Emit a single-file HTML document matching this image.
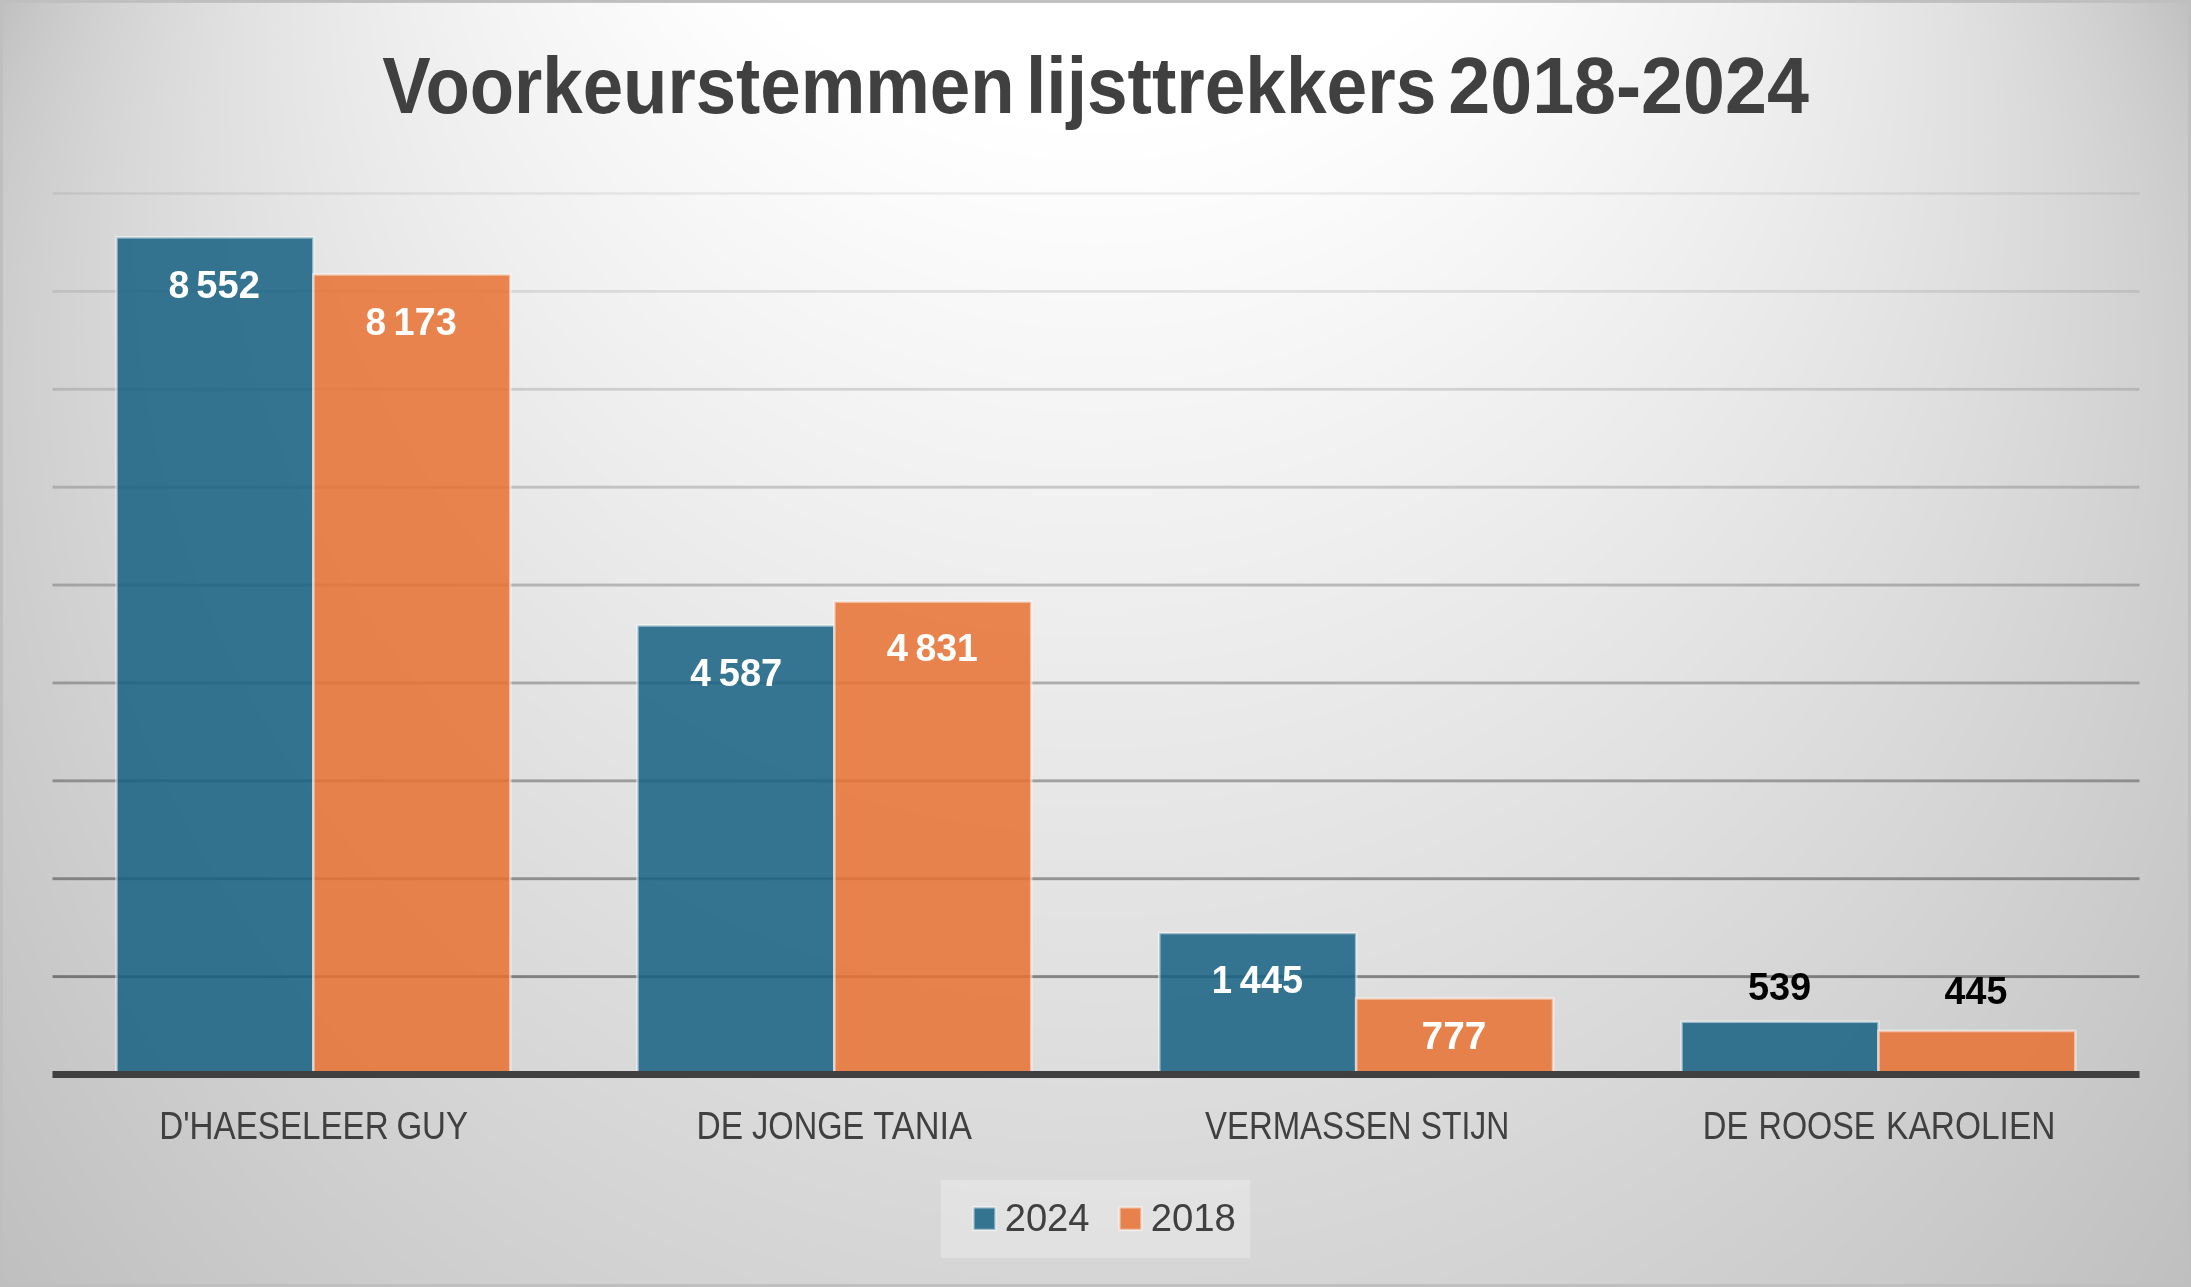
<!DOCTYPE html><html><head><meta charset="utf-8"><title>Voorkeurstemmen lijsttrekkers 2018-2024</title>
<style>html,body{margin:0;padding:0;background:#bfbfbf;overflow:hidden;}svg{display:block;font-family:"Liberation Sans",sans-serif;}</style></head><body>
<svg width="2191" height="1287" viewBox="0 0 2191 1287">
<rect x="0" y="0" width="2191" height="1287" fill="#bfbfbf"/>
<g>
<circle cx="1095.5" cy="635.53" r="1264.46" fill="rgb(192,192,192)"/>
<circle cx="1095.5" cy="619.58" r="1252.35" fill="rgb(193,193,193)"/>
<circle cx="1095.5" cy="603.63" r="1240.24" fill="rgb(194,194,194)"/>
<circle cx="1095.5" cy="587.69" r="1228.13" fill="rgb(195,195,195)"/>
<circle cx="1095.5" cy="571.74" r="1216.02" fill="rgb(196,196,196)"/>
<circle cx="1095.5" cy="555.79" r="1203.91" fill="rgb(197,197,197)"/>
<circle cx="1095.5" cy="539.85" r="1191.80" fill="rgb(198,198,198)"/>
<circle cx="1095.5" cy="523.90" r="1179.69" fill="rgb(199,199,199)"/>
<circle cx="1095.5" cy="507.95" r="1167.58" fill="rgb(200,200,200)"/>
<circle cx="1095.5" cy="492.01" r="1155.48" fill="rgb(201,201,201)"/>
<circle cx="1095.5" cy="476.06" r="1143.37" fill="rgb(202,202,202)"/>
<circle cx="1095.5" cy="460.11" r="1131.26" fill="rgb(203,203,203)"/>
<circle cx="1095.5" cy="444.17" r="1119.15" fill="rgb(204,204,204)"/>
<circle cx="1095.5" cy="428.22" r="1107.04" fill="rgb(205,205,205)"/>
<circle cx="1095.5" cy="412.27" r="1094.93" fill="rgb(206,206,206)"/>
<circle cx="1095.5" cy="396.33" r="1082.82" fill="rgb(207,207,207)"/>
<circle cx="1095.5" cy="380.38" r="1070.71" fill="rgb(208,208,208)"/>
<circle cx="1095.5" cy="364.43" r="1058.60" fill="rgb(209,209,209)"/>
<circle cx="1095.5" cy="348.49" r="1046.49" fill="rgb(210,210,210)"/>
<circle cx="1095.5" cy="332.54" r="1034.38" fill="rgb(211,211,211)"/>
<circle cx="1095.5" cy="316.59" r="1022.27" fill="rgb(212,212,212)"/>
<circle cx="1095.5" cy="300.65" r="1010.16" fill="rgb(213,213,213)"/>
<circle cx="1095.5" cy="284.70" r="998.05" fill="rgb(214,214,214)"/>
<circle cx="1095.5" cy="268.75" r="985.94" fill="rgb(215,215,215)"/>
<circle cx="1095.5" cy="252.81" r="973.83" fill="rgb(216,216,216)"/>
<circle cx="1095.5" cy="236.86" r="961.72" fill="rgb(217,217,217)"/>
<circle cx="1095.5" cy="220.91" r="949.61" fill="rgb(218,218,218)"/>
<circle cx="1095.5" cy="204.96" r="937.50" fill="rgb(219,219,219)"/>
<circle cx="1095.5" cy="189.02" r="925.39" fill="rgb(220,220,220)"/>
<circle cx="1095.5" cy="173.07" r="913.28" fill="rgb(221,221,221)"/>
<circle cx="1095.5" cy="157.12" r="901.17" fill="rgb(222,222,222)"/>
<circle cx="1095.5" cy="141.18" r="889.06" fill="rgb(223,223,223)"/>
<circle cx="1095.5" cy="125.23" r="876.95" fill="rgb(224,224,224)"/>
<circle cx="1095.5" cy="109.28" r="864.84" fill="rgb(225,225,225)"/>
<circle cx="1095.5" cy="93.34" r="852.74" fill="rgb(226,226,226)"/>
<circle cx="1095.5" cy="77.39" r="840.63" fill="rgb(227,227,227)"/>
<circle cx="1095.5" cy="61.44" r="828.52" fill="rgb(228,228,228)"/>
<circle cx="1095.5" cy="45.50" r="816.41" fill="rgb(229,229,229)"/>
<circle cx="1095.5" cy="29.55" r="804.30" fill="rgb(230,230,230)"/>
<circle cx="1095.5" cy="13.60" r="792.19" fill="rgb(231,231,231)"/>
<circle cx="1095.5" cy="-2.34" r="780.08" fill="rgb(232,232,232)"/>
<circle cx="1095.5" cy="-18.29" r="767.97" fill="rgb(233,233,233)"/>
<circle cx="1095.5" cy="-34.24" r="755.86" fill="rgb(234,234,234)"/>
<circle cx="1095.5" cy="-50.18" r="743.75" fill="rgb(235,235,235)"/>
<circle cx="1095.5" cy="-66.13" r="731.64" fill="rgb(236,236,236)"/>
<circle cx="1095.5" cy="-82.08" r="719.53" fill="rgb(237,237,237)"/>
<circle cx="1095.5" cy="-98.02" r="707.42" fill="rgb(238,238,238)"/>
<circle cx="1095.5" cy="-113.97" r="695.31" fill="rgb(239,239,239)"/>
<circle cx="1095.5" cy="-129.92" r="683.20" fill="rgb(240,240,240)"/>
<circle cx="1095.5" cy="-145.86" r="671.09" fill="rgb(241,241,241)"/>
<circle cx="1095.5" cy="-161.81" r="658.98" fill="rgb(242,242,242)"/>
<circle cx="1095.5" cy="-177.76" r="646.87" fill="rgb(243,243,243)"/>
<circle cx="1095.5" cy="-193.70" r="634.76" fill="rgb(244,244,244)"/>
<circle cx="1095.5" cy="-209.65" r="622.65" fill="rgb(245,245,245)"/>
<circle cx="1095.5" cy="-225.60" r="610.54" fill="rgb(246,246,246)"/>
<circle cx="1095.5" cy="-241.54" r="598.43" fill="rgb(247,247,247)"/>
<circle cx="1095.5" cy="-257.49" r="586.32" fill="rgb(248,248,248)"/>
<circle cx="1095.5" cy="-273.44" r="574.21" fill="rgb(249,249,249)"/>
<circle cx="1095.5" cy="-289.38" r="562.10" fill="rgb(250,250,250)"/>
<circle cx="1095.5" cy="-305.33" r="549.99" fill="rgb(251,251,251)"/>
<circle cx="1095.5" cy="-321.28" r="537.89" fill="rgb(252,252,252)"/>
<circle cx="1095.5" cy="-337.22" r="525.78" fill="rgb(253,253,253)"/>
<circle cx="1095.5" cy="-353.17" r="513.67" fill="rgb(254,254,254)"/>
<circle cx="1095.5" cy="-369.12" r="501.56" fill="rgb(255,255,255)"/>
</g>
<rect x="1.45" y="1.45" width="2188.1" height="1284.1" fill="none" stroke="#bfbfbf" stroke-width="2.9"/>
<rect x="52.5" y="192.05" width="2087.0" height="2.9" fill="rgba(0,0,0,0.060)"/>
<rect x="52.5" y="289.94" width="2087.0" height="2.9" fill="rgba(0,0,0,0.092)"/>
<rect x="52.5" y="387.83" width="2087.0" height="2.9" fill="rgba(0,0,0,0.131)"/>
<rect x="52.5" y="485.72" width="2087.0" height="2.9" fill="rgba(0,0,0,0.173)"/>
<rect x="52.5" y="583.61" width="2087.0" height="2.9" fill="rgba(0,0,0,0.218)"/>
<rect x="52.5" y="681.50" width="2087.0" height="2.9" fill="rgba(0,0,0,0.264)"/>
<rect x="52.5" y="779.39" width="2087.0" height="2.9" fill="rgba(0,0,0,0.311)"/>
<rect x="52.5" y="877.28" width="2087.0" height="2.9" fill="rgba(0,0,0,0.360)"/>
<rect x="52.5" y="975.17" width="2087.0" height="2.9" fill="rgba(0,0,0,0.410)"/>
<rect x="116.49" y="237.34" width="196.89" height="835.66" fill="rgba(21,96,130,0.85)" stroke="rgba(255,255,255,0.5)" stroke-width="2.6"/>
<rect x="313.38" y="274.45" width="196.89" height="798.55" fill="rgba(233,113,50,0.85)" stroke="rgba(255,255,255,0.5)" stroke-width="2.6"/>
<rect x="637.44" y="625.48" width="196.89" height="447.52" fill="rgba(21,96,130,0.85)" stroke="rgba(255,255,255,0.5)" stroke-width="2.6"/>
<rect x="834.33" y="601.59" width="196.89" height="471.41" fill="rgba(233,113,50,0.85)" stroke="rgba(255,255,255,0.5)" stroke-width="2.6"/>
<rect x="1159.29" y="933.05" width="196.89" height="139.95" fill="rgba(21,96,130,0.85)" stroke="rgba(255,255,255,0.5)" stroke-width="2.6"/>
<rect x="1356.17" y="998.44" width="196.89" height="74.56" fill="rgba(233,113,50,0.85)" stroke="rgba(255,255,255,0.5)" stroke-width="2.6"/>
<rect x="1681.54" y="1021.74" width="196.89" height="51.26" fill="rgba(21,96,130,0.85)" stroke="rgba(255,255,255,0.5)" stroke-width="2.6"/>
<rect x="1878.42" y="1030.94" width="196.89" height="42.06" fill="rgba(233,113,50,0.85)" stroke="rgba(255,255,255,0.5)" stroke-width="2.6"/>
<rect x="52.5" y="1071" width="2087.0" height="7" fill="#404040"/>
<rect x="940.8" y="1179.8" width="309.4" height="78.2" fill="rgba(242,242,242,0.39)"/>
<rect x="973.45" y="1207.35" width="22.0" height="22.6" fill="rgba(21,96,130,0.85)" stroke="rgba(255,255,255,0.5)" stroke-width="2.4"/>
<rect x="1119.45" y="1207.35" width="22.0" height="22.6" fill="rgba(233,113,50,0.85)" stroke="rgba(255,255,255,0.5)" stroke-width="2.4"/>
<g opacity="0.999">
<text transform="translate(382.34 113.00) scale(0.9134 1)" font-size="79.5" font-weight="bold" fill="#404040">Voorkeurstemmen</text>
<text transform="translate(1026.05 113.00) scale(0.9191 1)" font-size="79.5" font-weight="bold" fill="#404040">lijsttrekkers</text>
<text transform="translate(1448.29 113.00) scale(0.9485 1)" font-size="79.5" font-weight="bold" fill="#404040">2018-2024</text>
<text transform="translate(159.34 1139.00) scale(0.8483 1)" font-size="39.1" font-weight="normal" fill="#404040">D'HAESELEER</text>
<text transform="translate(396.41 1139.00) scale(0.8453 1)" font-size="39.1" font-weight="normal" fill="#404040">GUY</text>
<text transform="translate(696.51 1139.00) scale(0.8586 1)" font-size="39.1" font-weight="normal" fill="#404040">DE</text>
<text transform="translate(752.08 1139.00) scale(0.8325 1)" font-size="39.1" font-weight="normal" fill="#404040">JONGE</text>
<text transform="translate(873.32 1139.00) scale(0.8793 1)" font-size="39.1" font-weight="normal" fill="#404040">TANIA</text>
<text transform="translate(1204.99 1139.00) scale(0.8417 1)" font-size="39.1" font-weight="normal" fill="#404040">VERMASSEN</text>
<text transform="translate(1420.67 1139.00) scale(0.8155 1)" font-size="39.1" font-weight="normal" fill="#404040">STIJN</text>
<text transform="translate(1702.78 1139.00) scale(0.8384 1)" font-size="39.1" font-weight="normal" fill="#404040">DE</text>
<text transform="translate(1758.51 1139.00) scale(0.8279 1)" font-size="39.1" font-weight="normal" fill="#404040">ROOSE</text>
<text transform="translate(1886.12 1139.00) scale(0.8565 1)" font-size="39.1" font-weight="normal" fill="#404040">KAROLIEN</text>
<text transform="translate(168.41 297.80) scale(0.9558 1)" font-size="39.2" font-weight="bold" fill="#fff">8</text>
<text transform="translate(196.28 297.80) scale(0.9728 1)" font-size="39.2" font-weight="bold" fill="#fff">552</text>
<text transform="translate(365.62 334.70) scale(0.9455 1)" font-size="39.2" font-weight="bold" fill="#fff">8</text>
<text transform="translate(393.59 334.70) scale(0.9659 1)" font-size="39.2" font-weight="bold" fill="#fff">173</text>
<text transform="translate(690.13 685.60) scale(0.9429 1)" font-size="39.2" font-weight="bold" fill="#fff">4</text>
<text transform="translate(718.68 685.60) scale(0.9728 1)" font-size="39.2" font-weight="bold" fill="#fff">587</text>
<text transform="translate(886.81 661.40) scale(0.9762 1)" font-size="39.2" font-weight="bold" fill="#fff">4</text>
<text transform="translate(915.41 661.40) scale(0.9556 1)" font-size="39.2" font-weight="bold" fill="#fff">831</text>
<text transform="translate(1211.77 993.00) scale(0.9315 1)" font-size="39.2" font-weight="bold" fill="#fff">1</text>
<text transform="translate(1239.82 993.00) scale(0.9663 1)" font-size="39.2" font-weight="bold" fill="#fff">445</text>
<text transform="translate(1421.57 1049.10) scale(0.9903 1)" font-size="39.2" font-weight="bold" fill="#fff">777</text>
<text transform="translate(1747.89 999.60) scale(0.9689 1)" font-size="39.2" font-weight="bold" fill="#000">539</text>
<text transform="translate(1944.62 1004.40) scale(0.9584 1)" font-size="39.2" font-weight="bold" fill="#000">445</text>
<text transform="translate(1004.64 1230.80) scale(0.9796 1)" font-size="39.0" font-weight="normal" fill="#404040">2024</text>
<text transform="translate(1150.64 1230.80) scale(0.9819 1)" font-size="39.0" font-weight="normal" fill="#404040">2018</text>
</g>
</svg></body></html>
